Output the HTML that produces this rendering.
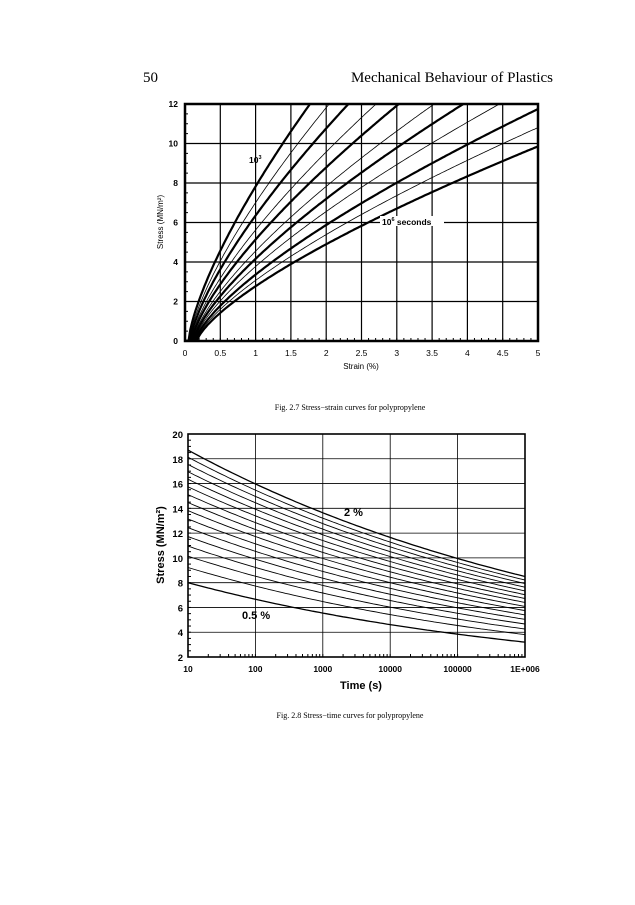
<!DOCTYPE html>
<html><head><meta charset="utf-8"><style>
html,body{margin:0;padding:0;background:#fff;}
body{width:635px;height:900px;position:relative;overflow:hidden;}
</style></head><body>
<svg id="s" width="635" height="900" viewBox="0 0 635 900" xmlns="http://www.w3.org/2000/svg" font-family="Liberation Sans, Arial, sans-serif">
<text x="143" y="82" font-family="Liberation Serif, serif" font-size="15">50</text>
<text x="553" y="82" font-family="Liberation Serif, serif" font-size="15" text-anchor="end">Mechanical Behaviour of Plastics</text>
<g id="top"></g>
<g id="bot"></g>
<text x="350" y="410" font-family="Liberation Serif, serif" font-size="8" text-anchor="middle">Fig. 2.7   Stress−strain curves for polypropylene</text>
<text x="350" y="718" font-family="Liberation Serif, serif" font-size="8" text-anchor="middle">Fig. 2.8   Stress−time curves for polypropylene</text>
</svg>
<script>
var NS="http://www.w3.org/2000/svg";
function el(p,t,a,txt){var e=document.createElementNS(NS,t);for(var k in a)e.setAttribute(k,a[k]);if(txt!==undefined)e.textContent=txt;p.appendChild(e);return e;}
// TOP
var T=document.getElementById("top");
var L=185,R=538,TT=104,B=341;
function tx(e){return L+(R-L)*e/5;} function ty(s){return B-(B-TT)*s/12;}
el(T,"clipPath",{id:"c1"});el(document.getElementById("c1"),"rect",{x:L,y:TT,width:R-L,height:B-TT});
for(var i=1;i<10;i++)el(T,"line",{x1:tx(i/2),x2:tx(i/2),y1:TT,y2:B,stroke:"#000","stroke-width":1.2});
for(var j=1;j<6;j++)el(T,"line",{x1:L,x2:R,y1:ty(2*j),y2:ty(2*j),stroke:"#000","stroke-width":1.2});
var e12=[1.72,1.98,2.24,2.62,2.93,3.42,3.82,4.32,5.0,5.6,6.35];
var n=0.72;
e12.forEach(function(e,k){var a=12/Math.pow(e,n);var e0=0.05+0.12*k/10;var d="";for(var q=0;q<=200;q++){var x=q/200*5;var ee=Math.max(x-e0,0);var s=a*Math.pow(ee,n);d+=(q?"L":"M")+tx(x).toFixed(1)+" "+ty(s).toFixed(1);}
el(T,"path",{d:d,fill:"none",stroke:"#000","stroke-width":k%2?0.8:2.2,"clip-path":"url(#c1)"});});
for(var i=0;i<=50;i++){el(T,"line",{x1:tx(i/10),x2:tx(i/10),y1:B,y2:B-3,stroke:"#000"});}
for(var j=0;j<=24;j++){el(T,"line",{x1:L,x2:L+3,y1:ty(j/2),y2:ty(j/2),stroke:"#000"});}
el(T,"rect",{x:L,y:TT,width:R-L,height:B-TT,fill:"none",stroke:"#000","stroke-width":2.5});
["0","0.5","1","1.5","2","2.5","3","3.5","4","4.5","5"].forEach(function(t,i){el(T,"text",{x:tx(i/2),y:356,"font-size":8.5,"text-anchor":"middle"},t);});
for(var j=0;j<=6;j++)el(T,"text",{x:178,y:ty(2*j)+3,"font-size":8.5,"text-anchor":"end","font-weight":"bold"},String(2*j));
el(T,"text",{x:361,y:369,"font-size":8,"text-anchor":"middle"},"Strain (%)");
el(T,"text",{x:0,y:0,"font-size":8,"text-anchor":"middle",transform:"translate(163,222) rotate(-90)"},"Stress (MN/m²)");
var t1=el(T,"text",{x:249,y:163,"font-size":8.5,"font-weight":"bold"},"10");el(t1,"tspan",{dy:-4,"font-size":5.5},"3");
el(T,"rect",{x:380,y:216,width:64,height:10,fill:"#fff"});
var t2=el(T,"text",{x:382,y:225,"font-size":8.5,"font-weight":"bold"},"10");el(t2,"tspan",{dy:-4,"font-size":5.5},"6");el(t2,"tspan",{dy:4}," seconds");
// BOTTOM
var Bo=document.getElementById("bot");
var L2=188,R2=525,T2=434,B2=657;
function bx(lt){return L2+(R2-L2)*(lt-1)/5;} function by(s){return B2-(B2-T2)*(s-2)/18;}
el(Bo,"clipPath",{id:"c2"});el(document.getElementById("c2"),"rect",{x:L2,y:T2,width:R2-L2,height:B2-T2});
for(var i=1;i<5;i++)el(Bo,"line",{x1:bx(1+i),x2:bx(1+i),y1:T2,y2:B2,stroke:"#000","stroke-width":0.8});
for(var j=1;j<9;j++)el(Bo,"line",{x1:L2,x2:R2,y1:by(2+2*j),y2:by(2+2*j),stroke:"#000","stroke-width":0.8});
var N=16;
for(var k=0;k<N;k++){var f=Math.pow(k/(N-1),0.8);var s0=8+(18.7-8)*f;var s1=3.2+(8.5-3.2)*f;var m=Math.log10(s0/s1)/5;var d="";
for(var q=0;q<=100;q++){var lt=1+q/100*5;var s=s0*Math.pow(10,-m*(lt-1));d+=(q?"L":"M")+bx(lt).toFixed(1)+" "+by(s).toFixed(1);}
el(Bo,"path",{d:d,fill:"none",stroke:"#000","stroke-width":k==0||k==N-1?1.3:0.9,"clip-path":"url(#c2)"});}
for(var dd=1;dd<6;dd++)for(var mm=2;mm<=10;mm++){var x=bx(dd+Math.log10(mm));el(Bo,"line",{x1:x,x2:x,y1:B2,y2:B2-3,stroke:"#000"});}
for(var j=2;j<=20;j+=0.5)el(Bo,"line",{x1:L2,x2:L2+3,y1:by(j),y2:by(j),stroke:"#000"});
el(Bo,"rect",{x:L2,y:T2,width:R2-L2,height:B2-T2,fill:"none",stroke:"#000","stroke-width":1.6});
["10","100","1000","10000","100000","1E+006"].forEach(function(t,i){el(Bo,"text",{x:bx(1+i),y:672,"font-size":8.5,"text-anchor":"middle","font-weight":"bold"},t);});
for(var j=2;j<=20;j+=2)el(Bo,"text",{x:183,y:by(j)+4,"font-size":9.5,"text-anchor":"end","font-weight":"bold"},String(j));
el(Bo,"text",{x:361,y:689,"font-size":11,"text-anchor":"middle","font-weight":"bold"},"Time (s)");
el(Bo,"text",{x:0,y:0,"font-size":11,"text-anchor":"middle","font-weight":"bold",transform:"translate(164,545) rotate(-90)"},"Stress (MN/m²)");
el(Bo,"text",{x:344,y:516,"font-size":11,"font-weight":"bold"},"2 %");
el(Bo,"text",{x:242,y:619,"font-size":11,"font-weight":"bold"},"0.5 %");
</script>
</body></html>
